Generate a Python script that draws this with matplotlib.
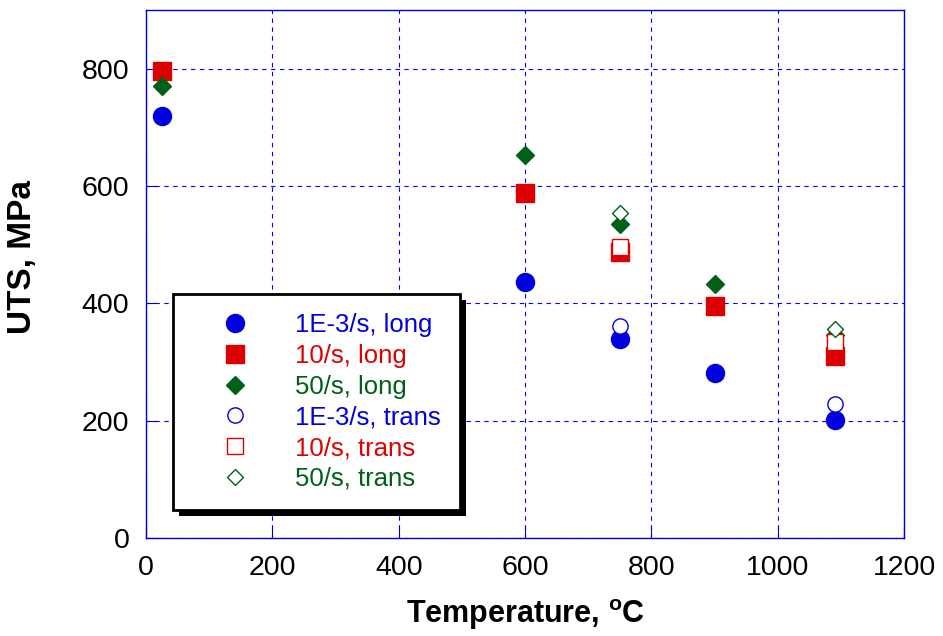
import matplotlib.pyplot as plt
import matplotlib.patheffects as pe

plt.rcParams['font.family'] = ['Liberation Sans', 'DejaVu Sans']

# temperatures, C
t_long = [25, 600, 750, 900, 1090]
t_trans = [750, 1090]

# UTS, MPa
uts_1e3_long = [720, 436, 340, 281, 201]
uts_10_long = [796, 589, 487, 395, 311]
uts_50_long = [771, 653, 536, 434, 347]
uts_1e3_trans = [361, 228]
uts_10_trans = [497, 335]
uts_50_trans = [555, 357]

blue = '#0000dd'
red = '#dd0000'
green = '#006018'

fig = plt.figure(figsize=(9.43, 6.36), dpi=100)
ax = fig.add_axes([0.1548, 0.154, 0.804, 0.830])

series = [
    (t_long, uts_1e3_long, 'o', blue, True, 13, '1E-3/s, long'),
    (t_long, uts_10_long, 's', red, True, 13, '10/s, long'),
    (t_long, uts_50_long, 'D', green, True, 9.5, '50/s, long'),
    (t_trans, uts_1e3_trans, 'o', blue, False, 11, '1E-3/s, trans'),
    (t_trans, uts_10_trans, 's', red, False, 11, '10/s, trans'),
    (t_trans, uts_50_trans, 'D', green, False, 8.5, '50/s, trans'),
]
for x, y, m, c, filled, ms, lab in series:
    ax.plot(x, y, linestyle='none', marker=m, markersize=ms,
            markerfacecolor=c if filled else 'white',
            markeredgecolor=c, markeredgewidth=1.0, label=lab)

ax.set_xlim(0, 1200)
ax.set_ylim(0, 900)
ax.set_xticks(range(0, 1201, 200))
ax.set_yticks(range(0, 801, 200))
ax.grid(True, color='#0000ff', linestyle=(0, (4, 4)), linewidth=0.8)
ax.set_axisbelow(True)
for s in ax.spines.values():
    s.set_color('#0000cc')
    s.set_linewidth(1.0)
ax.tick_params(direction='in', color='#0000cc', length=8, labelsize=20.5, pad=12)

ax.set_xlabel('Temperature, $^\\mathregular{o}$C', fontsize=22, fontweight='bold', labelpad=12)
ax.set_ylabel('UTS, MPa', fontsize=24, fontweight='bold')
ax.yaxis.set_label_coords(-0.143, 0.532)

leg = ax.legend(loc='lower left', bbox_to_anchor=(0.036, 0.053), fontsize=18.5,
                fancybox=False, frameon=True, framealpha=1,
                edgecolor='black', borderpad=0.75, handletextpad=0.7,
                labelspacing=0.26, borderaxespad=0, handlelength=3.3)
leg.get_frame().set_linewidth(2)
leg.get_frame().set_path_effects([
    pe.SimplePatchShadow(offset=(4, -4), shadow_rgbFace='black', alpha=1),
    pe.Normal()])
for txt, (_, _, _, c, _, _, _) in zip(leg.get_texts(), series):
    txt.set_color(c)

fig.savefig('out.png', dpi=100)
